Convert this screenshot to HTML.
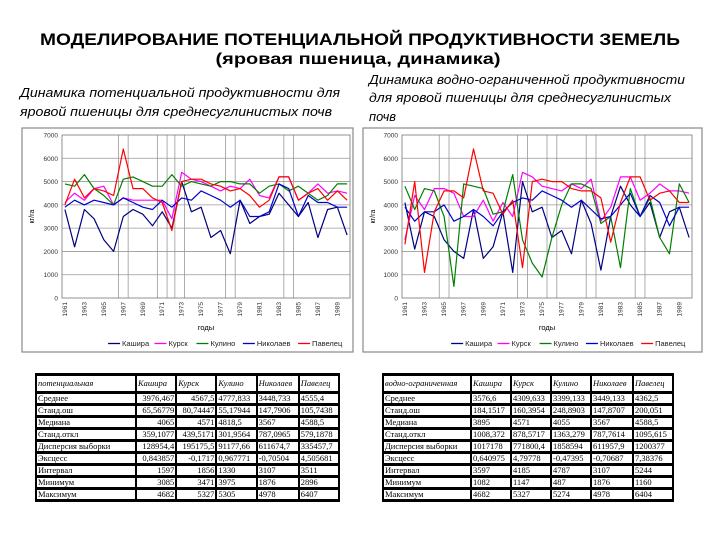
<!DOCTYPE html>
<html><head><meta charset="utf-8">
<style>
body{margin:0;background:#fff;width:720px;height:540px;overflow:hidden;position:relative;font-family:"Liberation Sans",sans-serif}
svg text{font-family:"Liberation Sans",sans-serif}
table.t{position:absolute;background:#000;border-spacing:2px 3px;padding:0;font-family:"Liberation Serif",serif;font-size:8.5px;line-height:9px}
table.t td{background:#fff;padding:0 1px;height:9px;white-space:nowrap;overflow:hidden}
table.t tr.h td{height:15px;font-style:italic}
table.t td.r{text-align:right}
</style></head><body>
<svg id="pg" width="720" height="540" style="position:absolute;left:0;top:0">
<text x="360" y="45" text-anchor="middle" font-size="17" font-weight="bold" textLength="640" lengthAdjust="spacingAndGlyphs">МОДЕЛИРОВАНИЕ ПОТЕНЦИАЛЬНОЙ ПРОДУКТИВНОСТИ ЗЕМЕЛЬ</text>
<text x="358" y="64" text-anchor="middle" font-size="16" font-weight="bold" textLength="285" lengthAdjust="spacingAndGlyphs">(яровая пшеница, динамика)</text>
<g font-style="italic" font-size="13">
<text x="20" y="97" textLength="320" lengthAdjust="spacingAndGlyphs">Динамика потенциальной продуктивности для</text>
<text x="20" y="116" textLength="312" lengthAdjust="spacingAndGlyphs">яровой пшеницы для среднесуглинистых почв</text>
<text x="369" y="84" textLength="316" lengthAdjust="spacingAndGlyphs">Динамика водно-ограниченной продуктивности</text>
<text x="369" y="102" textLength="302" lengthAdjust="spacingAndGlyphs">для яровой пшеницы для среднесуглинистых</text>
<text x="369" y="121" textLength="27" lengthAdjust="spacingAndGlyphs">почв</text>
</g>
<g id="c1"></g>
<g id="c2"></g>
</svg>

<table class="t" style="left:35px;top:373px;width:305px">
<tr class="h"><td style="width:96px">потенциальная</td><td>Кашира</td><td>Курск</td><td>Кулино</td><td>Николаев</td><td>Павелец</td></tr>
<tr><td>Среднее</td><td class="r">3976,467</td><td class="r">4567,5</td><td>4777,833</td><td>3448,733</td><td>4555,4</td></tr>
<tr><td>Станд.ош</td><td class="r">65,56779</td><td class="r">80,74447</td><td>55,17944</td><td>147,7906</td><td>105,7438</td></tr>
<tr><td>Медиана</td><td class="r">4065</td><td class="r">4571</td><td>4818,5</td><td>3567</td><td>4588,5</td></tr>
<tr><td>Станд.откл</td><td class="r">359,1077</td><td class="r">439,5171</td><td>301,9564</td><td>787,0965</td><td>579,1878</td></tr>
<tr><td>Дисперсия выборки</td><td class="r">128954,4</td><td class="r">195175,5</td><td>91177,66</td><td>611674,7</td><td>335457,7</td></tr>
<tr><td>Эксцесс</td><td class="r">0,843857</td><td class="r">-0,1717</td><td>0,967771</td><td>-0,70504</td><td>4,505681</td></tr>
<tr><td>Интервал</td><td class="r">1597</td><td class="r">1856</td><td>1330</td><td>3107</td><td>3511</td></tr>
<tr><td>Минимум</td><td class="r">3085</td><td class="r">3471</td><td>3975</td><td>1876</td><td>2896</td></tr>
<tr><td>Максимум</td><td class="r">4682</td><td class="r">5327</td><td>5305</td><td>4978</td><td>6407</td></tr>
</table>

<table class="t" style="left:382px;top:373px;width:292px">
<tr class="h"><td style="width:84px">водно-ограниченная</td><td>Кашира</td><td>Курск</td><td>Кулино</td><td>Николаев</td><td>Павелец</td></tr>
<tr><td>Среднее</td><td>3576,6</td><td>4309,633</td><td>3399,133</td><td>3449,133</td><td>4362,5</td></tr>
<tr><td>Станд.ош</td><td>184,1517</td><td>160,3954</td><td>248,8903</td><td>147,8707</td><td>200,051</td></tr>
<tr><td>Медиана</td><td>3895</td><td>4571</td><td>4055</td><td>3567</td><td>4588,5</td></tr>
<tr><td>Станд.откл</td><td>1008,372</td><td>878,5717</td><td>1363,279</td><td>787,7614</td><td>1095,615</td></tr>
<tr><td>Дисперсия выборки</td><td>1017178</td><td>771800,4</td><td>1858594</td><td>611957,9</td><td>1200377</td></tr>
<tr><td>Эксцесс</td><td>0,640975</td><td>4,79778</td><td>-0,47395</td><td>-0,70687</td><td>7,38376</td></tr>
<tr><td>Интервал</td><td>3597</td><td>4185</td><td>4787</td><td>3107</td><td>5244</td></tr>
<tr><td>Минимум</td><td>1082</td><td>1147</td><td>487</td><td>1876</td><td>1160</td></tr>
<tr><td>Максимум</td><td>4682</td><td>5327</td><td>5274</td><td>4978</td><td>6404</td></tr>
</table>

<script>
const years = [1961,1962,1963,1964,1965,1966,1967,1968,1969,1970,1971,1972,1973,1974,1975,1976,1977,1978,1979,1980,1981,1982,1983,1984,1985,1986,1987,1988,1989,1990];
const yTicks = [0,1000,2000,3000,4000,5000,6000,7000];
const seriesNames = ["Кашира","Курск","Кулино","Николаев","Павелец"];
const seriesColors = ["#000080","#ff00ff","#008000","#0000cc","#ff0000"];
// potential productivity
const potKashira = [3800,2200,3800,3400,2500,2000,3500,3800,3600,3100,3700,3000,5000,3700,3900,2600,2900,1900,4200,3200,3500,3600,4500,4000,3500,4100,2600,3800,3900,2700];
const potKursk = [4100,4500,4200,4700,4800,4000,4300,4200,4200,4200,4200,3400,5400,5100,5000,4800,4600,4800,4700,5100,4400,4300,5200,5200,4200,4500,4900,4500,4600,4500];
const potKulino = [4900,4800,5300,4700,4400,4000,5100,5200,5000,4800,4800,5300,4800,5000,4900,4800,5000,5000,4900,4900,4500,4800,4900,4600,4800,4500,4200,4400,4900,4900];
const potNikolaev = [3900,4200,4000,4200,4100,4000,4300,4100,3900,3800,4200,3900,4300,4200,4600,4400,4200,3900,4200,3500,3500,3700,4900,4700,3500,4400,4100,4100,3900,3900];
const potPavelets = [4000,5100,4300,4700,4600,4400,6400,4700,4700,4300,4100,2900,5000,5100,5100,4900,4800,4600,4700,4400,3900,4200,5200,5200,4200,4500,4700,4200,4600,4200];
// water-limited productivity
const wKashira = [4100,2100,3700,3500,2500,2000,1700,3800,1700,2200,3700,1100,5000,3700,3900,2600,2900,1900,4200,3200,1200,3500,4800,4000,3500,4100,2600,3700,3900,2600];
const wKursk = [2500,4400,3800,4700,4700,4500,3500,3500,4200,3300,4100,3500,5400,5200,4800,4700,4600,4900,4700,5100,3300,3900,5200,5200,4200,4500,4900,4600,4600,4500];
const wKulino = [4800,3800,4700,4600,3500,500,4900,4800,4700,3600,3700,5300,2500,1500,900,2600,4000,4900,4900,4700,3200,3500,1300,4700,3500,4300,2600,1900,4900,4100];
const wNikolaev = [3900,3300,3700,3700,4000,3300,3500,3800,3500,3100,3700,4100,4300,4200,4600,4400,4200,3900,4200,3800,3400,3500,4000,4500,3500,4400,4100,3100,3900,3900];
const wPavelets = [2300,5000,1100,3700,4600,4600,4300,6400,4600,4500,3600,4200,1300,5000,5100,5000,5000,4700,4600,4600,4300,2400,4100,5200,5200,4200,4500,4600,4100,4100];

const NS="http://www.w3.org/2000/svg";
function mk(p,tag,attrs){const e=document.createElementNS(NS,tag);for(const k in attrs)e.setAttribute(k,attrs[k]);p.appendChild(e);return e;}

function drawChart(g,box,plot,series,vgrid,ylabel,xlabel,prefix){
  const xs=i=>plot.x0+(plot.x1-plot.x0)*(i+0.3)/(years.length-0.4);
  const ys=v=>plot.y1-(v/7000)*(plot.y1-plot.y0);
  const fr=mk(g,'rect',{x:box.x,y:box.y,width:box.w,height:box.h,fill:'#fff',stroke:'#888','stroke-width':1.2});
  
  
  yTicks.forEach(t=>{
    if(t>0&&t<7000){const l=mk(g,'line',{x1:plot.x0,x2:plot.x1,y1:ys(t),y2:ys(t),stroke:'#999','stroke-width':0.8});
    
    }
    const tx=mk(g,'text',{x:plot.x0-4,y:ys(t)+2.5,'text-anchor':'end','font-size':6.5,fill:'#333'});
    
    
    tx.textContent=t;
  });
  vgrid.forEach(i=>{const l=mk(g,'line',{x1:xs(i),x2:xs(i),y1:plot.y0,y2:plot.y1,stroke:'#999','stroke-width':0.8});
    
    });
  const pa=mk(g,'rect',{x:plot.x0,y:plot.y0,width:plot.x1-plot.x0,height:plot.y1-plot.y0,fill:'none',stroke:'#777','stroke-width':0.8});
  
  
  years.forEach((yr,i)=>{ if(i%2) return;
    const x=xs(i),y=plot.y1+4;
    const tx=mk(g,'text',{x:x+2,y:y,'text-anchor':'end','font-size':6.5,fill:'#333',transform:`rotate(-90 ${x+2} ${y})`});
    
    
    tx.textContent=yr;
  });
  const yl=mk(g,'text',{x:box.x+12,y:(plot.y0+plot.y1)/2,'text-anchor':'middle','font-size':7,transform:`rotate(-90 ${box.x+12} ${(plot.y0+plot.y1)/2})`});
  
  
  yl.textContent=ylabel;
  const xl=mk(g,'text',{x:(plot.x0+plot.x1)/2,y:plot.y1+32,'text-anchor':'middle','font-size':7.5});
  
  
  xl.textContent=xlabel;
  series.forEach((vals,si)=>{
    const d=vals.map((v,i)=>(i?'L':'M')+xs(i).toFixed(1)+' '+ys(v).toFixed(1)).join(' ');
    const p=mk(g,'path',{d:d,fill:'none',stroke:seriesColors[si],'stroke-width':1.2,'stroke-linejoin':'round'});
    
    
  });
  let lx=box.x+box.w*0.26;const ly=box.y+box.h-6;
  seriesNames.forEach((n,si)=>{
    const lg=mk(g,'g',{});
    
    
    mk(lg,'line',{x1:lx,x2:lx+12,y1:ly-2.5,y2:ly-2.5,stroke:seriesColors[si],'stroke-width':1.3});
    const t=mk(lg,'text',{x:lx+14,y:ly,'font-size':7.5,fill:'#222'});t.textContent=n;
    lx+=14+n.length*4.4+6;
  });
}
const vg=[5.5,6.5,9.5,10.5,11.3,12.3,16.5,17.5,22.5,23.5];
drawChart(document.getElementById('c1'),{x:22,y:128,w:331,h:224},{x0:62,x1:350,y0:135,y1:298},
  [potKashira,potKursk,potKulino,potNikolaev,potPavelets],vg,'кг/га','годы','pot');
drawChart(document.getElementById('c2'),{x:363,y:128,w:339,h:224},{x0:402,x1:692,y0:135,y1:298},
  [wKashira,wKursk,wKulino,wNikolaev,wPavelets],[3.5,4.5,11.5,12.5,14.5,15.5,18.5,19.5,23.5,24.5],'кг/га','годы','wat');
</script>
</body></html>
